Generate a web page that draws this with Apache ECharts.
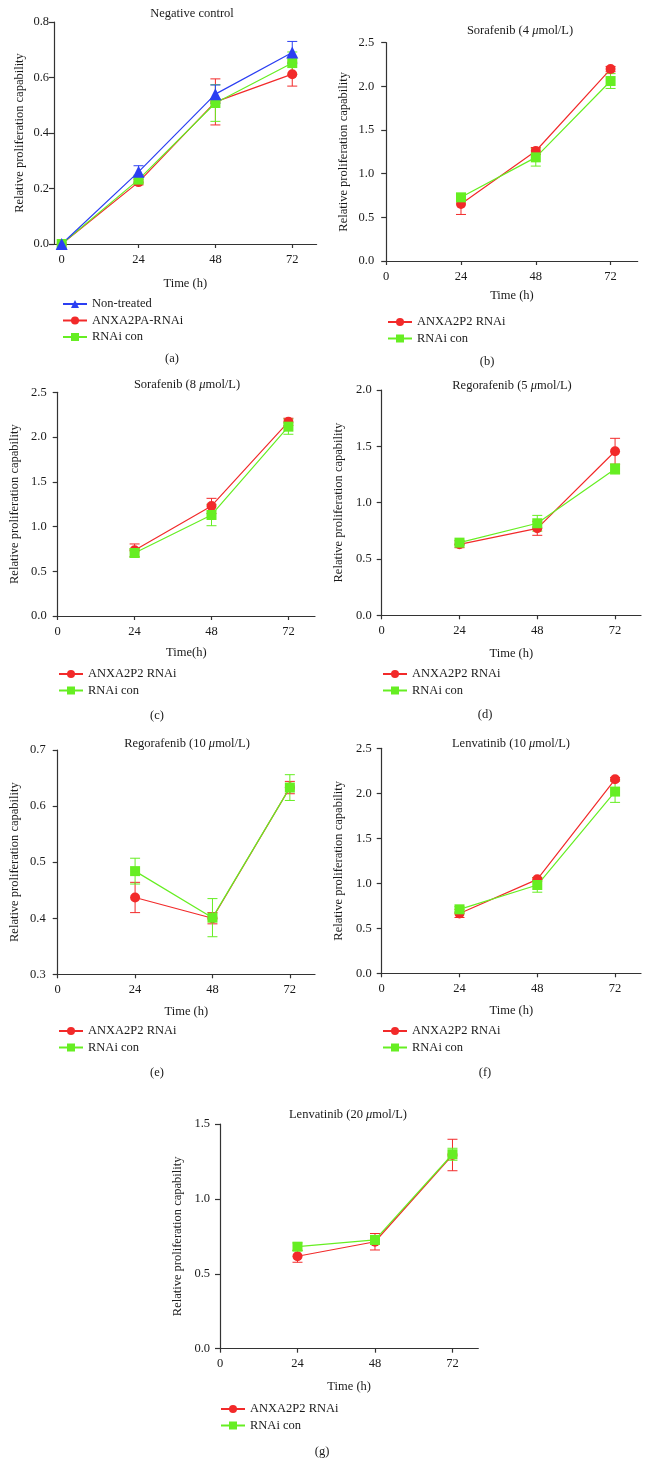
<!DOCTYPE html>
<html><head><meta charset="utf-8">
<script src="https://cdn.jsdelivr.net/npm/echarts@6/dist/echarts.min.js"></script>
<style>html,body{margin:0;padding:0;background:#fff}#c{width:650px;height:1479px}</style>
</head><body><div id="c"></div>
<script>
// ---------- data ----------
const hoursA = [0, 24, 48, 72];
const hours = [24, 48, 72];
const xTickValues = [0, 24, 48, 72];

// (a) Negative control
const aNonTreated = [0, 0.26, 0.54, 0.69];
const aNonTreatedErr = [0, 0.022, 0.033, 0.04];
const aAnxa = [0, 0.223, 0.512, 0.612];
const aAnxaErr = [0, 0.01, 0.083, 0.043];
const aCon = [0, 0.232, 0.508, 0.652];
const aConErr = [0, 0.012, 0.066, 0.04];
// (b) Sorafenib 4
const bAnxa = [0.653, 1.26, 2.198];
const bAnxaErr = [0.12, 0.04, 0.03];
const bCon = [0.729, 1.187, 2.061];
const bConErr = [0.03, 0.1, 0.085];
// (c) Sorafenib 8
const cAnxa = [0.735, 1.23, 2.17];
const cAnxaErr = [0.07, 0.085, 0.04];
const cCon = [0.704, 1.129, 2.116];
const cConErr = [0.048, 0.12, 0.085];
// (d) Regorafenib 5
const dAnxa = [0.63, 0.772, 1.456];
const dAnxaErr = [0.03, 0.062, 0.115];
const dCon = [0.645, 0.817, 1.299];
const dConErr = [0.02, 0.07, 0.045];
// (e) Regorafenib 10
const eAnxa = [0.437, 0.400, 0.633];
const eAnxaErr = [0.027, 0.01, 0.011];
const eCon = [0.484, 0.401, 0.633];
const eConErr = [0.023, 0.034, 0.023];
// (f) Lenvatinib 10
const fAnxa = [0.665, 1.044, 2.156];
const fAnxaErr = [0.045, 0.02, 0.02];
const fCon = [0.711, 0.981, 2.019];
const fConErr = [0.03, 0.08, 0.12];
// (g) Lenvatinib 20
const gAnxa = [0.617, 0.714, 1.293];
const gAnxaErr = [0.04, 0.055, 0.105];
const gCon = [0.681, 0.726, 1.298];
const gConErr = [0.025, 0.03, 0.04];

const titles = ['Negative control', 'Sorafenib (4 μmol/L)', 'Sorafenib (8 μmol/L)', 'Regorafenib (5 μmol/L)',
  'Regorafenib (10 μmol/L)', 'Lenvatinib (10 μmol/L)', 'Lenvatinib (20 μmol/L)'];
const panelLabels = ['(a)', '(b)', '(c)', '(d)', '(e)', '(f)', '(g)'];
const xNames = ['Time (h)', 'Time (h)', 'Time(h)', 'Time (h)', 'Time (h)', 'Time (h)', 'Time (h)'];
const yName = 'Relative proliferation capability';
const yMin = [0, 0, 0, 0, 0.3, 0, 0];
const yMax = [0.8, 2.5, 2.5, 2.0, 0.7, 2.5, 1.5];
const yStep = [0.2, 0.5, 0.5, 0.5, 0.1, 0.5, 0.5];

// ---------- styles / layout ----------
const RED = '#f22a2a', GREEN = '#66ee22', BLUE = '#2b3ff2';
const FONT = '"Liberation Serif", "DejaVu Serif", serif';
const TXT = '#1a1a1a', AX = '#333';

const layout = [
  {grid: [54, 22, 262.6, 222], x: [-2.4, 79.6], title: [192, 14], legend: [62, 297.5], label: [172, 359], ym: 5, xg: 33, yg: 28},
  {grid: [386.2, 42.7, 251.5, 218.3], x: [0, 80.7], title: [520, 31], legend: [387, 315.5], label: [487, 362], ym: 12, xg: 28, yg: 36},
  {grid: [57.7, 392.3, 257.3, 223.7], x: [0, 80.3], title: [187, 385], legend: [58, 667.5], label: [157, 716], ym: 11, xg: 30, yg: 36},
  {grid: [381.7, 390, 259.3, 225.3], x: [0, 80], title: [512, 386], legend: [382, 667.5], label: [485, 715], ym: 10, xg: 32, yg: 36},
  {grid: [57.7, 750, 257.3, 224.3], x: [0, 79.8], title: [187, 744], legend: [58, 1024.5], label: [157, 1073], ym: 12, xg: 31, yg: 36},
  {grid: [381.7, 748.3, 259.3, 225], x: [0, 80], title: [511, 744], legend: [382, 1024.5], label: [485, 1073], ym: 10, xg: 31, yg: 36},
  {grid: [220, 1124, 258.3, 224.7], x: [0, 80], title: [348, 1115], legend: [220, 1402.5], label: [322, 1452], ym: 10, xg: 32, yg: 36}
];

const groups = [
  [['ANXA2PA-RNAi', hoursA, aAnxa, aAnxaErr, RED, 'circle', 10],
   ['RNAi con', hoursA, aCon, aConErr, GREEN, 'rect', 10],
   ['Non-treated', hoursA, aNonTreated, aNonTreatedErr, BLUE, 'triangle', 12]],
  [['ANXA2P2 RNAi', hours, bAnxa, bAnxaErr, RED, 'circle', 10], ['RNAi con', hours, bCon, bConErr, GREEN, 'rect', 10]],
  [['ANXA2P2 RNAi', hours, cAnxa, cAnxaErr, RED, 'circle', 10], ['RNAi con', hours, cCon, cConErr, GREEN, 'rect', 10]],
  [['ANXA2P2 RNAi', hours, dAnxa, dAnxaErr, RED, 'circle', 10], ['RNAi con', hours, dCon, dConErr, GREEN, 'rect', 10]],
  [['ANXA2P2 RNAi', hours, eAnxa, eAnxaErr, RED, 'circle', 10], ['RNAi con', hours, eCon, eConErr, GREEN, 'rect', 10]],
  [['ANXA2P2 RNAi', hours, fAnxa, fAnxaErr, RED, 'circle', 10], ['RNAi con', hours, fCon, fConErr, GREEN, 'rect', 10]],
  [['ANXA2P2 RNAi', hours, gAnxa, gAnxaErr, RED, 'circle', 10], ['RNAi con', hours, gCon, gConErr, GREEN, 'rect', 10]]
];
const legendOrders = [['Non-treated', 'ANXA2PA-RNAi', 'RNAi con']].concat(
  Array(6).fill(['ANXA2P2 RNAi', 'RNAi con']));

function errItem(color) {
  return function (params, api) {
    const x = api.value(0), y = api.value(1), e = api.value(2);
    if (!e) return null;
    const t = api.coord([x, y + e]), b = api.coord([x, y - e]);
    const w = 5;
    const st = {stroke: color, lineWidth: 1, fill: null};
    return {type: 'group', children: [
      {type: 'line', shape: {x1: t[0], y1: t[1], x2: b[0], y2: b[1]}, style: st},
      {type: 'line', shape: {x1: t[0] - w, y1: t[1], x2: t[0] + w, y2: t[1]}, style: st},
      {type: 'line', shape: {x1: b[0] - w, y1: b[1], x2: b[0] + w, y2: b[1]}, style: st}
    ]};
  };
}

const grid = [], xAxis = [], yAxis = [], series = [], legend = [], texts = [];
layout.forEach((L, i) => {
  grid.push({left: L.grid[0], top: L.grid[1], width: L.grid[2], height: L.grid[3], outerBoundsMode: 'none', containLabel: false});
  xAxis.push({
    gridIndex: i, type: 'value', min: L.x[0], max: L.x[1],
    axisLine: {show: true, onZero: false, lineStyle: {color: AX, width: 1.2}},
    axisTick: {show: true, length: 4, customValues: xTickValues, lineStyle: {color: AX, width: 1.2}},
    axisLabel: {customValues: xTickValues, margin: 9, color: TXT, fontFamily: FONT, fontSize: 12.5},
    splitLine: {show: false},
    name: xNames[i], nameLocation: 'middle', nameGap: L.xg,
    nameTextStyle: {color: TXT, fontFamily: FONT, fontSize: 12.5}
  });
  yAxis.push({
    gridIndex: i, type: 'value', min: yMin[i], max: yMax[i], interval: yStep[i],
    axisLine: {show: true, onZero: false, lineStyle: {color: AX, width: 1.2}},
    axisTick: {show: true, length: 5, lineStyle: {color: AX, width: 1.2}},
    axisLabel: {margin: L.ym, color: TXT, fontFamily: FONT, fontSize: 12.5, formatter: v => v.toFixed(1)},
    splitLine: {show: false},
    name: yName, nameLocation: 'middle', nameGap: L.yg,
    nameTextStyle: {color: TXT, fontFamily: FONT, fontSize: 12.5}
  });
  groups[i].forEach(g => {
    const [name, xs, ys, es, color] = g;
    series.push({
      type: 'custom', xAxisIndex: i, yAxisIndex: i, renderItem: errItem(color), silent: true, z: 1,
      encode: {x: 0, y: 1}, data: xs.map((v, k) => [v, ys[k], es[k]]), animation: false, clip: false
    });
  });
  groups[i].forEach(g => {
    const [name, xs, ys, es, color, symbol, size] = g;
    series.push({
      type: 'line', name, xAxisIndex: i, yAxisIndex: i, z: 3,
      data: xs.map((v, k) => [v, ys[k]]), symbol, symbolSize: size, showAllSymbol: true,
      itemStyle: {color}, lineStyle: {color, width: 1.2}, animation: false, silent: true
    });
  });
  legend.push({
    orient: 'vertical', left: L.legend[0], top: L.legend[1], data: legendOrders[i],
    itemWidth: 24, itemHeight: 10, itemGap: 3.5, selectedMode: false, padding: 0,
    textStyle: {color: TXT, fontFamily: FONT, fontSize: 12.5, lineHeight: 13}
  });
  texts.push({
    type: 'text', x: L.title[0], y: L.title[1],
    style: {text: titles[i].replace('μ', '{i|μ}'), fill: TXT, fontFamily: FONT, fontSize: 12.5,
      align: 'center', verticalAlign: 'middle',
      rich: {i: {fontStyle: 'italic', fontFamily: FONT, fontSize: 12.5, fill: TXT}}}
  });
  texts.push({
    type: 'text', x: L.label[0], y: L.label[1],
    style: {text: panelLabels[i], fill: TXT, fontFamily: FONT, fontSize: 12.5, align: 'center', verticalAlign: 'middle'}
  });
});

const chart = echarts.init(document.getElementById('c'), null, {renderer: 'canvas'});
chart.setOption({
  animation: false,
  backgroundColor: '#fff',
  grid, xAxis, yAxis, series, legend,
  graphic: {elements: texts}
});
</script></body></html>
